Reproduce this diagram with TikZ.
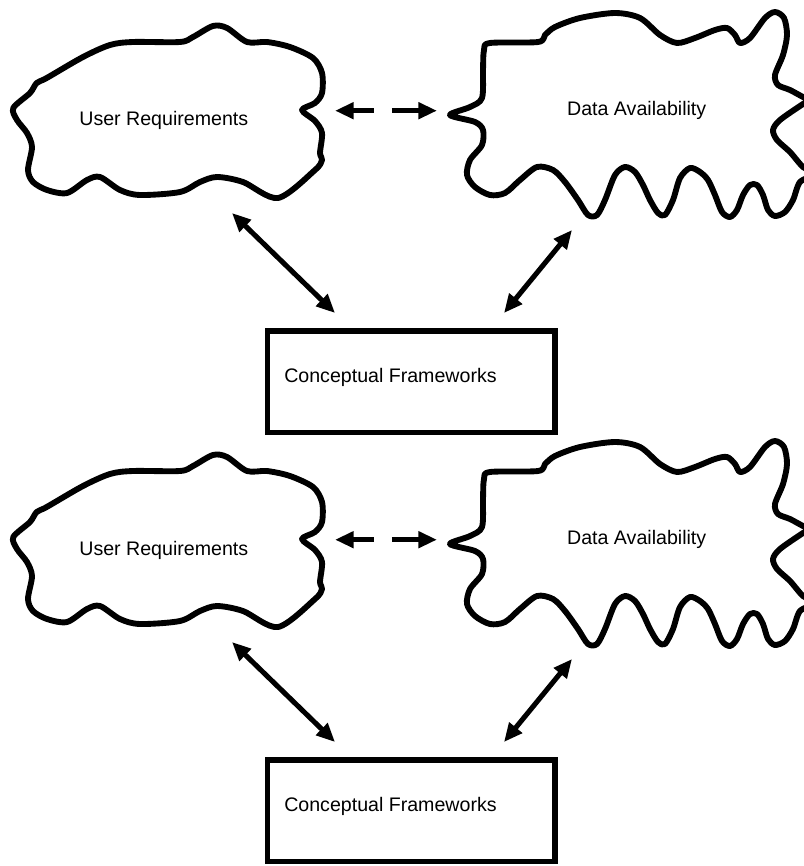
\documentclass[tikz,border=0pt]{standalone}
\usepackage{fontspec}
\setmainfont{Liberation Sans}
\usetikzlibrary{arrows.meta}
\begin{document}
\begin{tikzpicture}[x=0.75pt,y=-0.75pt,
  cloudline/.style={line width=4.4pt, line join=round},
  lbl/.style={font=\fontsize{14.7pt}{17pt}\selectfont, inner sep=0pt, anchor=base},
  tip/.tip={Triangle[length=14pt,width=12pt]},
  conn/.style={line width=3.8pt, tip-tip},
  dashconn/.style={conn, dash pattern=on 16pt off 13.5pt on 30pt off 1pt},
  framebox/.style={draw, line width=4.2pt, minimum width=215.6pt, minimum height=76.1pt, inner sep=0pt}]
\useasboundingbox (0,0) rectangle (803,866);
\foreach \s/\k in {0/a,429/b}{
\begin{scope}[shift={(0,\s)}]
  % User Requirements cloud
  \draw[cloudline] plot[smooth cycle, tension=0.5] coordinates {
    (13.3,108) (30,93) (36.7,83) (46.7,78) (83,57) (110,45) (133,42) (180,42)
    (193,37) (213,26) (227,28) (247,42) (267,42) (290,47) (313,58) (322,73)
    (322,93) (315,103) (302,110) (315,121) (322,133) (320,153) (322,160)
    (315,170) (278,198) (243,182) (217,177) (200,182) (180,192) (140,195)
    (120,190) (100,177) (87,180) (67,193) (47,190) (33,182) (28,170) (32,147)
    (27,133) (17,120)};
  % Data Availability cloud
  \draw[cloudline] plot[smooth cycle, tension=0.5] coordinates {
    (450,115) (470,107) (482,98) (483,70) (484,50) (490,43) (538,42) (545,35)
    (555,27) (580,18) (615,13) (640,18) (660,35) (677,43) (695,38) (715,30)
    (727,28) (735,35) (740,43) (750,38) (765,18) (775,12) (784,18) (787,35)
    (783,55) (775,75) (778,85) (790,90) (803,97) (810,100) (803,104) (780,120)
    (773,130) (777,140) (790,152) (803,167) (815,174) (800,182) (793,200)
    (785,212) (775,216) (768,210) (763,195) (757,185) (750,185) (743,195)
    (737,210) (730,217) (722,212) (715,195) (708,180) (700,172) (690,168)
    (680,178) (673,200) (665,215) (658,213) (650,200) (643,185) (635,172)
    (625,167) (615,175) (605,200) (597,215) (588,215) (578,200) (565,182)
    (553,170) (537,167) (520,180) (505,193) (490,195) (475,187) (467,175)
    (470,160) (482,145) (483,130) (475,122)};
  \node[lbl] (ur\k) at (163.8,126) {User Requirements};
  \node[lbl] (da\k) at (636.7,115.5) {Data Availability};
  \node[framebox] (cf\k) at (411.25,381.75) {};
  \node[lbl, anchor=base west] (cft\k) at (284,382.5) {Conceptual Frameworks};
  % connector ends
  \coordinate (urR\k) at (335,110.7);
  \coordinate (daL\k) at (437,110.7);
  \coordinate (urB\k) at (232,213);
  \coordinate (cfL\k) at (335,313);
  \coordinate (daB\k) at (572,230);
  \coordinate (cfR\k) at (504,313);
  \draw[dashconn] (urR\k) -- (daL\k);
  \draw[conn] (urB\k) -- (cfL\k);
  \draw[conn] (daB\k) -- (cfR\k);
\end{scope}
}
\end{tikzpicture}
\end{document}
